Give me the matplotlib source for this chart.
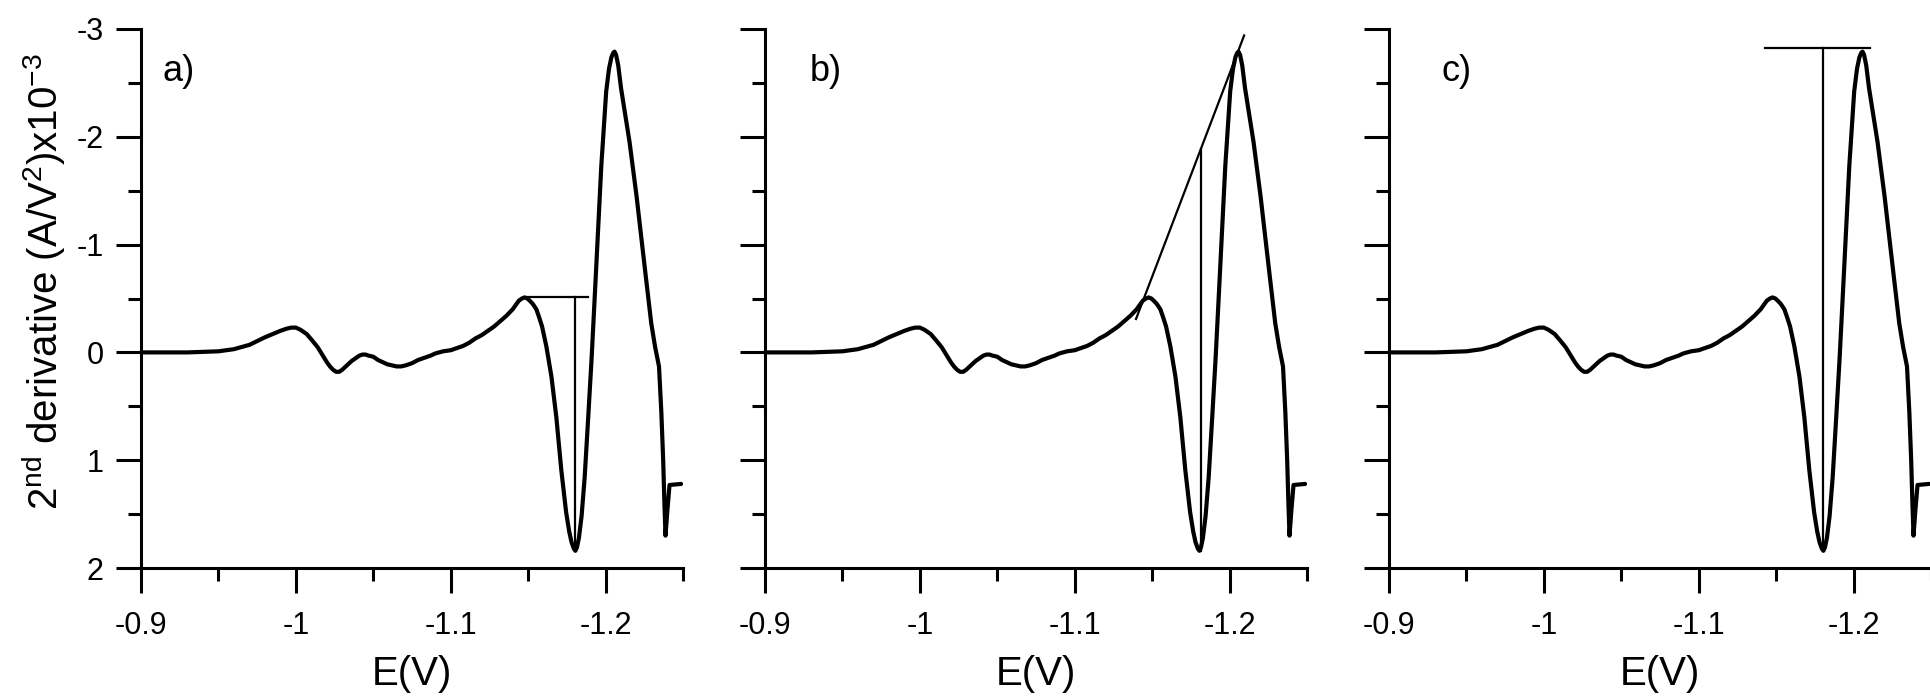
import matplotlib
matplotlib.use("Agg")
import matplotlib.pyplot as plt
from matplotlib.ticker import FixedLocator, FixedFormatter

plt.rcParams['font.family'] = ['Liberation Sans', 'DejaVu Sans']
plt.rcParams['mathtext.fontset'] = 'custom'
plt.rcParams['mathtext.rm'] = 'Liberation Sans'
plt.rcParams['mathtext.it'] = 'Liberation Sans'
plt.rcParams['axes.unicode_minus'] = False

# ---- data: potential (V) and 2nd derivative (x10^-3 A/V^2) ----
E_V = [-0.900, -0.930, -0.950, -0.960, -0.970, -0.980, -0.990, -0.994, -0.997,
       -1.000, -1.003, -1.007, -1.010, -1.014, -1.017, -1.020, -1.022, -1.024,
       -1.026, -1.028, -1.030, -1.033, -1.036, -1.039, -1.041, -1.043,
       -1.045, -1.047, -1.050, -1.053, -1.056, -1.059, -1.062, -1.065, -1.068,
       -1.071, -1.075, -1.079, -1.083, -1.087, -1.090, -1.095,
       -1.100, -1.104, -1.108, -1.112, -1.116, -1.120, -1.124, -1.128, -1.132,
       -1.136, -1.140, -1.142, -1.144, -1.146, -1.1477, -1.1495,
       -1.1510, -1.1530, -1.1553, -1.1570, -1.1590, -1.1617, -1.1650, -1.1682,
       -1.1714, -1.1745, -1.1765, -1.1780, -1.1795, -1.1805, -1.1815, -1.1828,
       -1.1845, -1.1865, -1.1888, -1.1910, -1.1940, -1.1972, -1.2004, -1.2022,
       -1.2038, -1.2050, -1.2058, -1.2068, -1.2082, -1.2100, -1.2155,
       -1.2200, -1.2252, -1.2295, -1.2320, -1.2345, -1.2360, -1.2372,
       -1.2380, -1.2387, -1.2400, -1.2413, -1.2488]
D2 = [0.00, 0.00, -0.01, -0.03, -0.07, -0.14, -0.20, -0.22, -0.23,
      -0.23, -0.21, -0.17, -0.12, -0.05, 0.02, 0.09, 0.13, 0.16,
      0.18, 0.18, 0.16, 0.12, 0.08, 0.05, 0.03, 0.02,
      0.02, 0.03, 0.04, 0.07, 0.09, 0.11, 0.12, 0.13, 0.13,
      0.12, 0.10, 0.07, 0.05, 0.03, 0.01, -0.01,
      -0.02, -0.04, -0.06, -0.09, -0.13, -0.16, -0.20, -0.24, -0.29,
      -0.34, -0.40, -0.44, -0.48, -0.50, -0.51, -0.50,
      -0.48, -0.45, -0.40, -0.33, -0.24, -0.06, 0.22, 0.60,
      1.09, 1.48, 1.66, 1.76, 1.82, 1.84, 1.81, 1.72,
      1.52, 1.16, 0.60, 0.05, -0.80, -1.72, -2.42, -2.63,
      -2.74, -2.78, -2.79, -2.76, -2.66, -2.45, -1.95,
      -1.45, -0.80, -0.27, -0.05, 0.13, 0.55, 1.00,
      1.40, 1.70, 1.45, 1.23, 1.22]

x_ticks = [-0.9, -1.0, -1.1, -1.2]
x_tick_labels = ["-0.9", "-1", "-1.1", "-1.2"]
y_ticks = [-3, -2, -1, 0, 1, 2]
y_tick_labels = ["-3", "-2", "-1", "0", "1", "2"]
panel_labels = ["a)", "b)", "c)"]
panel_label_x = [-0.914, -0.929, -0.934]

# construction lines
# a) horizontal from the pre-peak maximum, vertical at the minimum
a_h_x = [-1.1477, -1.1886]
a_h_y = [-0.51, -0.51]
a_v_x = [-1.1805, -1.1805]
a_v_y = [-0.51, 1.84]
# b) tangent line through both maxima, vertical at minimum
b_t_x = [-1.1396, -1.2094]
b_t_y = [-0.31, -2.94]
b_v_x = [-1.1818, -1.1818]
b_v_y = [1.84, -1.89]
# c) horizontal at the main maximum, vertical at minimum
c_h_x = [-1.1426, -1.2103]
c_h_y = [-2.82, -2.82]
c_v_x = [-1.1800, -1.1800]
c_v_y = [-2.82, 1.84]

W, H = 1931, 696
fig = plt.figure(figsize=(W / 100, H / 100), dpi=100)

lefts = [141, 765, 1389]
ax_w = 542
ax_top, ax_bot = 29, 568

constructions = [
    [(a_h_x, a_h_y), (a_v_x, a_v_y)],
    [(b_t_x, b_t_y), (b_v_x, b_v_y)],
    [(c_h_x, c_h_y), (c_v_x, c_v_y)],
]

for i, left in enumerate(lefts):
    ax = fig.add_axes([left / W, (H - ax_bot) / H, ax_w / W, (ax_bot - ax_top) / H])
    ax.plot(E_V, D2, color='black', lw=3.0, solid_joinstyle='round',
            solid_capstyle='round', zorder=3)
    for xs, ys in constructions[i]:
        ax.plot(xs, ys, color='black', lw=1.6, zorder=2)
    ax.set_xlim(-0.9, -1.25)
    ax.set_ylim(2, -3)
    for s in ['top', 'right']:
        ax.spines[s].set_visible(False)
    for s in ['left', 'bottom']:
        ax.spines[s].set_linewidth(2.2)
    ax.xaxis.set_major_locator(FixedLocator(x_ticks))
    ax.xaxis.set_major_formatter(FixedFormatter(x_tick_labels))
    ax.xaxis.set_minor_locator(FixedLocator([-0.95, -1.05, -1.15, -1.25]))
    ax.yaxis.set_major_locator(FixedLocator(y_ticks))
    ax.yaxis.set_minor_locator(FixedLocator([-2.5, -1.5, -0.5, 0.5, 1.5]))
    if i == 0:
        ax.yaxis.set_major_formatter(FixedFormatter(y_tick_labels))
    else:
        ax.set_yticklabels([])
    ax.tick_params(which='major', direction='out', length=18, width=2.2,
                   labelsize=22, color='black')
    ax.tick_params(which='minor', direction='out', length=9.5, width=2.2,
                   color='black')
    ax.tick_params(axis='x', which='major', pad=13)
    ax.tick_params(axis='y', which='major', pad=9)
    ax.set_xlabel("E(V)", fontsize=29, labelpad=10)
    ax.text(panel_label_x[i], -2.606, panel_labels[i], fontsize=26,
            ha='left', va='center')
    ax.patch.set_visible(False)

fig.text(44 / W, 1 - 282 / H, r"2$^{\rm nd}$ derivative (A/V$^{2}$)x10$^{-3}$",
         rotation=90, ha='center', va='center', fontsize=29)

fig.savefig("out.png", dpi=100, facecolor='white')
